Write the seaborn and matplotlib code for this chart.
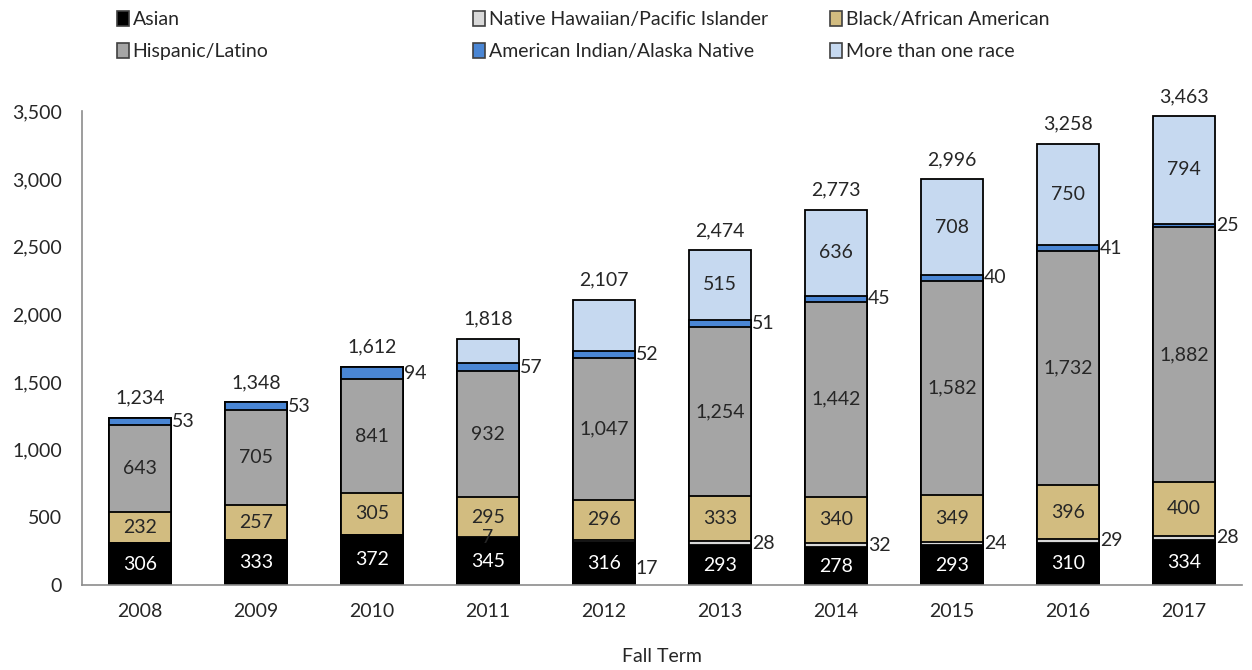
import numpy as np
import pandas as pd
import seaborn as sns
import matplotlib.pyplot as plt
from matplotlib.patches import Patch
from matplotlib.ticker import FuncFormatter

# data
years = ["2008", "2009", "2010", "2011", "2012", "2013", "2014", "2015", "2016", "2017"]
asian = [306, 333, 372, 345, 316, 293, 278, 293, 310, 334]
nhpi = [0, 0, 0, 7, 17, 28, 32, 24, 29, 28]
black = [232, 257, 305, 295, 296, 333, 340, 349, 396, 400]
hispanic = [643, 705, 841, 932, 1047, 1254, 1442, 1582, 1732, 1882]
aian = [53, 53, 94, 57, 52, 51, 45, 40, 41, 25]
multi = [0, 0, 0, 182, 379, 515, 636, 708, 750, 794]

groups = ["Asian", "Native Hawaiian/Pacific Islander", "Black/African American",
          "Hispanic/Latino", "American Indian/Alaska Native", "More than one race"]
colors = ["#000000", "#d9d9d9", "#d2bc80", "#a5a5a5", "#4a86d4", "#c6d9f0"]

df = pd.DataFrame({"year": years, "Asian": asian,
                   "Native Hawaiian/Pacific Islander": nhpi,
                   "Black/African American": black, "Hispanic/Latino": hispanic,
                   "American Indian/Alaska Native": aian, "More than one race": multi})
cum = df[groups].cumsum(axis=1)
df["total"] = cum[groups[-1]]

sns.set_style("white")
plt.rcParams["font.family"] = ["Lato", "DejaVu Sans"]
txt = "#262626"

fig = plt.figure(figsize=(12.52, 6.7), dpi=100)
ax = fig.add_axes([0.0655, 0.127, 0.9265, 0.707])

# stacked bars: draw cumulative totals from top layer down
for g, c in reversed(list(zip(groups, colors))):
    sns.barplot(x=df["year"], y=cum[g], color=c, edgecolor="black", linewidth=1.3,
                width=0.54, saturation=1, ax=ax)

x = np.arange(len(years))
bottoms = cum.sub(df[groups])

def mid(g, i):
    return bottoms[g][i] + df[g][i] / 2

fs = 14
for i in range(len(years)):
    ax.text(x[i], mid("Asian", i), f"{asian[i]:,}", color="white", ha="center", va="center", fontsize=fs)
    ax.text(x[i], mid("Black/African American", i), f"{black[i]:,}", color=txt, ha="center", va="center", fontsize=fs)
    ax.text(x[i], mid("Hispanic/Latino", i), f"{hispanic[i]:,}", color=txt, ha="center", va="center", fontsize=fs)
    ax.text(x[i] + 0.275, mid("American Indian/Alaska Native", i), f"{aian[i]:,}", color=txt,
            ha="left", va="center", fontsize=fs)
    if multi[i] >= 500:
        ax.text(x[i], mid("More than one race", i), f"{multi[i]:,}", color=txt, ha="center", va="center", fontsize=fs)
    if nhpi[i] > 0:
        if nhpi[i] < 10:
            ax.text(x[i], mid("Native Hawaiian/Pacific Islander", i), f"{nhpi[i]}", color=txt,
                    ha="center", va="center", fontsize=fs)
        else:
            yy = mid("Native Hawaiian/Pacific Islander", i)
            if years[i] == "2012":
                yy -= 200
            ax.text(x[i] + 0.275, yy, f"{nhpi[i]}", color=txt, ha="left", va="center", fontsize=fs)
    ax.annotate(f"{df['total'][i]:,}", (x[i], df["total"][i]), xytext=(0, 8), textcoords="offset points",
                ha="center", va="bottom", color=txt, fontsize=fs)

ax.set_xlim(-0.5, len(years) - 0.5)
ax.set_ylim(0, 3500)
ax.set_yticks(range(0, 3501, 500))
ax.yaxis.set_major_formatter(FuncFormatter(lambda v, p: f"{int(v):,}"))
ax.set_xticks(np.arange(-0.5, len(years), 1), minor=True)
ax.tick_params(axis="x", which="major", length=0, pad=13, labelsize=fs, labelcolor=txt)
ax.tick_params(axis="x", which="minor", length=7, color="#8c8c8c", direction="inout")
ax.tick_params(axis="y", length=7, color="#8c8c8c", direction="inout", labelsize=fs, labelcolor=txt, pad=11)
ax.set_xlabel("Fall Term", fontsize=fs, color=txt, labelpad=20)
ax.set_ylabel("")
for s in ["top", "right"]:
    ax.spines[s].set_visible(False)
for s in ["left", "bottom"]:
    ax.spines[s].set_color("#8c8c8c")
    ax.spines[s].set_linewidth(1.2)

# legend: three columns placed like the original, rows filled left to right
handles = [Patch(facecolor=c, edgecolor="#404040", linewidth=1.2) for c in colors]
col_x = [117 / 1252, 473 / 1252, 830 / 1252]
for k, cx in enumerate(col_x):
    fig.legend([handles[k], handles[k + 3]], [groups[k], groups[k + 3]], loc="upper left",
               bbox_to_anchor=(cx, 0.984), frameon=False, fontsize=fs, handlelength=0.6,
               handleheight=0.85, handletextpad=0.2, labelspacing=0.75, borderpad=0,
               borderaxespad=0, labelcolor=txt)

fig.savefig("out.png", dpi=100)
